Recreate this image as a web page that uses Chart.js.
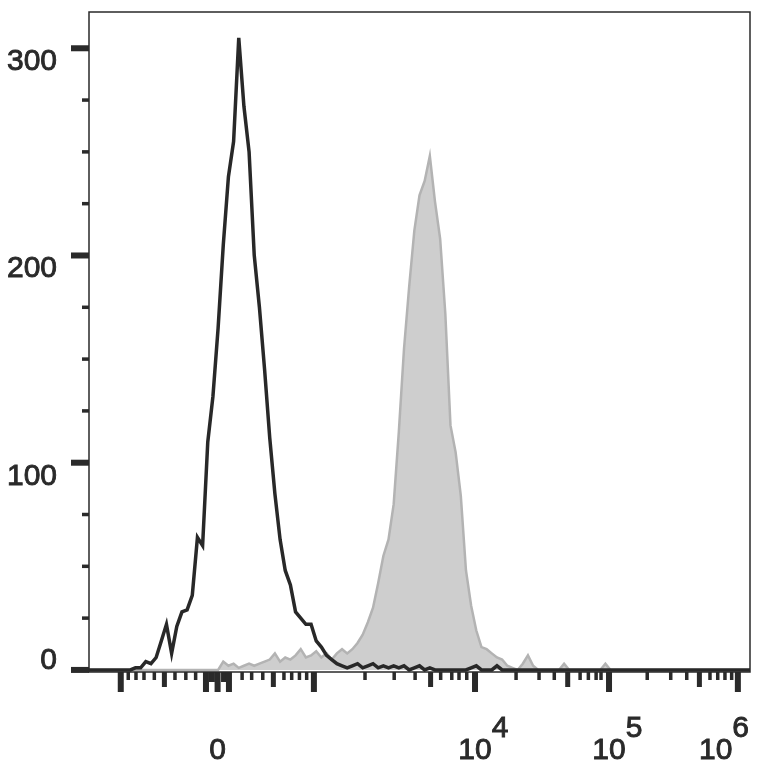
<!DOCTYPE html>
<html>
<head>
<meta charset="utf-8">
<title>Histogram</title>
<script src="https://cdn.jsdelivr.net/npm/chart.js@4.4.1/dist/chart.umd.min.js"></script>
<style>
  html, body { margin: 0; padding: 0; background: #fff; }
  canvas { display: block; }
</style>
</head>
<body>
<canvas id="histChart" width="764" height="773"></canvas>
<script>
// display channels (256 across the biexponential axis), every 2nd channel
const channels = [
  0, 2, 4, 6, 8, 10, 12, 14, 16, 18, 20, 22, 24, 26, 28, 30, 32, 34, 36, 38,
  40, 42, 44, 46, 48, 50, 52, 54, 56, 58, 60, 62, 64, 66, 68, 70, 72, 74, 76, 78,
  80, 82, 84, 86, 88, 90, 92, 94, 96, 98, 100, 102, 104, 106, 108, 110, 112, 114, 116, 118,
  120, 122, 124, 126, 128, 130, 132, 134, 136, 138, 140, 142, 144, 146, 148, 150, 152, 154, 156, 158,
  160, 162, 164, 166, 168, 170, 172, 174, 176, 178, 180, 182, 184, 186, 188, 190, 192, 194, 196, 198,
  200, 202, 204, 206, 208, 210, 212, 214, 216, 218, 220, 222, 224, 226, 228, 230, 232, 234, 236, 238,
  240, 242, 244, 246, 248, 250, 252, 254, 256
];

// black outline (control)
const controlCounts = [
  0, 0, 0, 0, 0, 0, 0, 0, 0, 1, 1, 4, 3, 6, 14, 22, 8, 21, 28, 29,
  36, 64, 60, 110, 132, 165, 205, 238, 255, 305, 272, 250, 200, 175, 145, 112, 85, 63, 48, 41,
  28, 25, 22, 22, 14, 11, 7, 5, 3, 2, 1, 2, 3, 1, 2, 3, 1, 2, 1, 2,
  1, 2, 0, 1, 2, 0, 1, 0, 0, 0, 0, 0, 0, 0, 1, 2, 0, 0, 0, 2,
  0, 0, 0, 0, 0, 0, 0, 0, 0, 0, 0, 0, 0, 0, 0, 0, 0, 0, 0, 0,
  0, 0, 0, 0, 0, 0, 0, 0, 0, 0, 0, 0, 0, 0, 0, 0, 0, 0, 0, 0,
  0, 0, 0, 0, 0, 0, 0, 0, 0
];

// gray filled (stained)
const stainedCounts = [
  0, 0, 0, 0, 0, 0, 0, 0, 0, 0, 0, 0, 0, 0, 0, 0, 0, 0, 0, 0,
  0, 0, 0, 0, 0, 0, 4, 2, 3, 1, 2, 3, 2, 3, 4, 5, 8, 4, 6, 5,
  7, 10, 6, 7, 9, 6, 8, 5, 8, 10, 8, 10, 13, 17, 23, 30, 42, 55, 63, 80,
  115, 155, 185, 212, 229, 236, 248, 226, 208, 172, 118, 105, 84, 48, 31, 19, 11, 10, 8, 6,
  5, 2, 1, 0, 3, 7, 2, 0, 0, 0, 0, 0, 3, 0, 0, 0, 0, 0, 0, 0,
  3, 0, 0, 0, 0, 0, 0, 0, 0, 0, 0, 0, 0, 0, 0, 0, 0, 0, 0, 0,
  0, 0, 0, 0, 0, 0, 0, 0, 0
];

// x tick marks in channel units: -10^3, 0 (+/-100), 10^3, 10^4, 10^5, 10^6
const xMajorTicks = [12.3, 45.3, 49.8, 54.2, 87.1, 149.5, 201.4, 251.3];
const xMidTicks = [29.2, 71.4, 132.3, 185.4, 236.4];
const xNearZeroTicks = [47.6, 52.3];
const xMinorTicks = [15.2, 18.2, 21.3, 25.3, 33.3, 37.5, 41.3, 59.3, 63.0, 67.3,
  75.5, 78.5, 81.5, 84.3, 106.9, 118.2, 126.3, 136.2, 140.5, 143.3, 146.3,
  165.4, 174.3, 180.2, 190.2, 193.4, 196.4, 198.3,
  216.2, 225.3, 231.5, 240.5, 243.5, 246.3, 248.9];
const xLabelAt = [49.8, 149.5, 201.4, 251.3];
const xLabelBase = ['0', '10', '10', '10'];
const xLabelExp = ['', '4', '5', '6'];

const yMajorTicks = [0, 100, 200, 300];
const yMinorTicks = [25, 50, 75, 125, 150, 175, 225, 250, 275];
const yLabels = ['0', '100', '200', '300'];

const ink = '#2a2a2a';
const labelFont = '30px "Liberation Sans", Arial, sans-serif';

// tick marks, labels and frame drawn against the chart's own scales
const flowAxes = {
  id: 'flowAxes',
  afterDatasetsDraw(chart) {
    const { ctx, chartArea: a, scales: { x, y } } = chart;
    ctx.save();
    ctx.fillStyle = ink;

    const xTicks = (vals, len, w) => vals.forEach(v => {
      const p = x.getPixelForValue(v);
      ctx.fillRect(p - w / 2, a.bottom, w, len);
    });
    xTicks(xMinorTicks, 8, 3.5);
    xTicks(xNearZeroTicks, 10, 6);
    xTicks(xMidTicks, 15, 5);
    xTicks(xMajorTicks, 20, 6);

    const yTicks = (vals, len, w) => vals.forEach(v => {
      const p = y.getPixelForValue(v);
      ctx.fillRect(a.left - len, p - w / 2, len, w);
    });
    yTicks(yMinorTicks, 7, 3.5);
    yTicks(yMajorTicks, 18, 6);

    // frame
    ctx.strokeStyle = ink;
    ctx.lineWidth = 1.5;
    ctx.strokeRect(a.left, a.top, a.right - a.left, a.bottom - a.top);

    ctx.font = labelFont;
    ctx.textBaseline = 'alphabetic';
    ctx.lineWidth = 0.9; // slightly heavier glyphs, like the scanned original
    const text = (s, tx, ty) => { ctx.fillText(s, tx, ty); ctx.strokeText(s, tx, ty); };

    // y labels
    ctx.textAlign = 'right';
    yMajorTicks.forEach((v, i) => {
      const p = y.getPixelForValue(v);
      text(yLabels[i], a.left - 32, v === 0 ? p - 1 : p + 22);
    });

    // x labels with raised exponent
    ctx.textAlign = 'left';
    const baseY = a.bottom + 87;
    xLabelAt.forEach((v, i) => {
      const p = x.getPixelForValue(v);
      const wb = ctx.measureText(xLabelBase[i]).width;
      const we = xLabelExp[i] ? ctx.measureText(xLabelExp[i]).width : 0;
      let left = p - wb / 2;
      const limit = chart.width - 15;
      if (left + wb + we > limit) left = limit - wb - we;
      text(xLabelBase[i], left, baseY);
      if (xLabelExp[i]) text(xLabelExp[i], left + wb, baseY - 22);
    });
    ctx.restore();
  }
};

new Chart(document.getElementById('histChart'), {
  type: 'line',
  data: {
    datasets: [
      {
        label: 'Control',
        data: channels.map((c, i) => ({ x: c, y: controlCounts[i] })),
        borderColor: '#282828',
        borderWidth: 3.5,
        fill: false,
        pointRadius: 0,
        tension: 0,
        order: 1
      },
      {
        label: 'Stained',
        data: channels.map((c, i) => ({ x: c, y: stainedCounts[i] })),
        borderColor: '#b3b3b3',
        backgroundColor: '#cecece',
        borderWidth: 2.5,
        fill: 'origin',
        pointRadius: 0,
        tension: 0,
        order: 2
      }
    ]
  },
  options: {
    responsive: false,
    animation: false,
    devicePixelRatio: 1,
    layout: { padding: { left: 89, top: 12, right: 14, bottom: 101 } },
    plugins: {
      legend: { display: false },
      tooltip: { enabled: false }
    },
    scales: {
      x: { type: 'linear', min: 0, max: 256, display: false },
      y: { type: 'linear', min: -1, max: 317.5, display: false }
    }
  },
  plugins: [flowAxes]
});
</script>
</body>
</html>
